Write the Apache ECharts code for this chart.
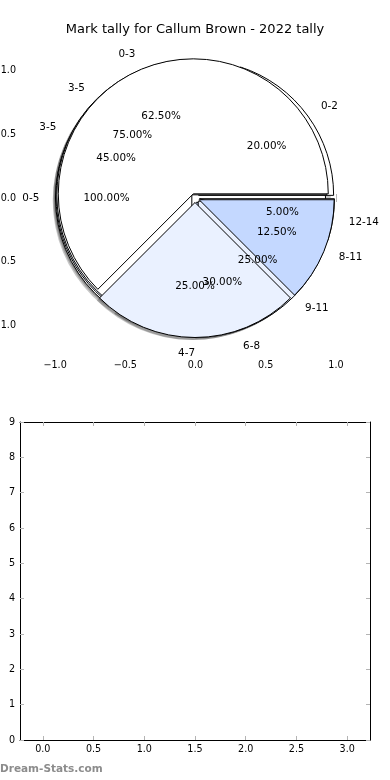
<!DOCTYPE html>
<html><head><meta charset="utf-8">
<script src="https://cdn.jsdelivr.net/npm/echarts@6/dist/echarts.min.js"></script>
<style>html,body{margin:0;padding:0;background:#fff}#c{width:390px;height:780px}</style>
</head><body><div id="c"></div>
<script>
// ---- data ----
const titleText = 'Mark tally for Callum Brown - 2022 tally';
const pieANames = ['0-5'];
const pieAValues = [100];
const pieBNames = ['0-3', '4-7', '8-11'];
const pieBValues = [62.5, 25, 12.5];
const pieCNames = ['0-2', '3-5', '6-8', '12-14'];
const pieCValues = [20, 45, 30, 5];
const pieDNames = ['3-5', '9-11'];
const pieDValues = [75, 25];
const pieTicks = [-1, -0.5, 0, 0.5, 1];
const barCategories = [0, 1, 2, 3];
const barValues = [0, 0, 0, 0];
const barXTicks = [0, 0.5, 1, 1.5, 2, 2.5, 3];
const barYTicks = [0, 1, 2, 3, 4, 5, 6, 7, 8, 9];
const watermark = 'Dream-Stats.com';

// ---- styles ----
const FONT = 'DejaVu Sans';
const sliceColors = ['#ffffff', '#eaf1ff', '#c4d8ff', '#ffffff'];
const CENTER = [195, 198];
const SHADOW_CENTER = [192.2, 200.6];
const R = 135;
const EXPLODE = 4.5;
const TICK_COLOR = '#b4b4b4';

function fmtTick(v) {
  const s = Math.abs(v).toFixed(1);
  return v < 0 ? '\u2212' + s : s;
}

function pieBase(names, values, extra) {
  return Object.assign({
    type: 'pie', center: CENTER, radius: [0, R], startAngle: 0, clockwise: false,
    selectedMode: 'multiple', selectedOffset: EXPLODE, avoidLabelOverlap: false,
    animation: false, silent: true,
    labelLayout: { hideOverlap: false, moveOverlap: false },
    emphasis: { disabled: true }
  }, extra);
}
function pieShadow(names, values) {
  return pieBase(names, values, {
    center: SHADOW_CENTER,
    label: { show: false }, labelLine: { show: false },
    itemStyle: { color: 'rgba(0,0,0,0.22)', borderWidth: 0 },
    data: names.map((n, i) => ({ name: n, value: values[i], selected: true,
      select: { itemStyle: { color: 'rgba(0,0,0,0.22)', borderWidth: 0 } } }))
  });
}
function pieMain(names, values) {
  return pieBase(names, values, {
    label: { show: true, position: 'outside', formatter: '{b}', color: '#000',
      fontFamily: FONT, fontSize: 10.4, distanceToLabelLine: 0 },
    labelLine: { show: false, length: R * 0.12, length2: 0 },
    itemStyle: { borderColor: '#000', borderWidth: 1 },
    data: names.map((n, i) => ({ name: n, value: values[i], selected: true,
      itemStyle: { color: sliceColors[i] },
      select: { itemStyle: { color: sliceColors[i], borderColor: '#000', borderWidth: 1 } } }))
  });
}
function piePct(names, values) {
  return pieBase(names, values, {
    radius: [0, R * 1.2],
    label: { show: true, position: 'inside', color: '#000', fontFamily: FONT, fontSize: 10.4,
      formatter: p => p.percent.toFixed(2) + '%' },
    labelLine: { show: false },
    itemStyle: { color: 'rgba(0,0,0,0)', borderWidth: 0 },
    data: names.map((n, i) => ({ name: n, value: values[i], selected: true,
      select: { itemStyle: { color: 'rgba(0,0,0,0)', borderWidth: 0 } } }))
  });
}

const tickStyle = { show: true, inside: true, length: 4, lineStyle: { color: TICK_COLOR, width: 1 } };
const labelStyle = { color: '#000', fontFamily: FONT, fontSize: 9.6 };
const frameLine = { show: true, onZero: false, lineStyle: { color: '#000', width: 1 } };

const mainB = pieMain(pieBNames, pieBValues);
// matplotlib right-aligns the label that sits straight below the centre
mainB.labelLayout = function (p) {
  return p.dataIndex === 1 ? { align: 'right', hideOverlap: false, moveOverlap: false }
                           : { hideOverlap: false, moveOverlap: false };
};

const chart = echarts.init(document.getElementById('c'), null, { renderer: 'canvas' });
chart.setOption({
  backgroundColor: '#fff',
  animation: false,
  title: { text: titleText, left: 'center', top: 23, padding: 0,
    textStyle: { fontFamily: FONT, fontSize: 13, fontWeight: 'normal', color: '#000' } },
  grid: [
    { left: 20, right: 19, top: 40, bottom: 424, containLabel: false, outerBoundsMode: 'none' },
    { left: 20, right: 20, top: 422, bottom: 40, containLabel: false, outerBoundsMode: 'none' }
  ],
  xAxis: [
    { type: 'value', gridIndex: 0, position: 'bottom', min: -1.25, max: 1.25,
      axisLine: { show: false }, splitLine: { show: false },
      axisTick: Object.assign({ customValues: pieTicks }, tickStyle),
      axisLabel: Object.assign({ customValues: pieTicks, formatter: fmtTick, margin: 4 }, labelStyle) },
    { type: 'value', gridIndex: 0, position: 'top', min: -1.25, max: 1.25,
      axisLine: { show: false }, splitLine: { show: false },
      axisTick: Object.assign({ customValues: pieTicks }, tickStyle), axisLabel: { show: false } },
    { type: 'value', gridIndex: 1, position: 'bottom', min: -0.225, max: 3.225,
      axisLine: frameLine, splitLine: { show: false },
      axisTick: Object.assign({ customValues: barXTicks }, tickStyle),
      axisLabel: Object.assign({ customValues: barXTicks, formatter: fmtTick, margin: 4 }, labelStyle) },
    { type: 'value', gridIndex: 1, position: 'top', min: -0.225, max: 3.225,
      axisLine: frameLine, splitLine: { show: false },
      axisTick: Object.assign({ customValues: barXTicks }, tickStyle), axisLabel: { show: false } }
  ],
  yAxis: [
    { type: 'value', gridIndex: 0, position: 'left', min: -1.236, max: 1.236,
      axisLine: { show: false }, splitLine: { show: false },
      axisTick: Object.assign({ customValues: pieTicks }, tickStyle),
      axisLabel: Object.assign({ customValues: pieTicks, formatter: fmtTick, margin: 4 }, labelStyle) },
    { type: 'value', gridIndex: 0, position: 'right', min: -1.236, max: 1.236,
      axisLine: { show: false }, splitLine: { show: false },
      axisTick: Object.assign({ customValues: pieTicks }, tickStyle), axisLabel: { show: false } },
    { type: 'value', gridIndex: 1, position: 'left', min: 0, max: 9, interval: 1,
      axisLine: frameLine, splitLine: { show: false },
      axisTick: Object.assign({ customValues: barYTicks }, tickStyle),
      axisLabel: Object.assign({ customValues: barYTicks, margin: 5 }, labelStyle) },
    { type: 'value', gridIndex: 1, position: 'right', min: 0, max: 9, interval: 1,
      axisLine: frameLine, splitLine: { show: false },
      axisTick: Object.assign({ customValues: barYTicks }, tickStyle), axisLabel: { show: false } }
  ],
  graphic: [
    { type: 'text', left: 0, top: 764, silent: true,
      style: { text: watermark, fill: '#8c8c8c', font: 'bold 10.5px "DejaVu Sans"' } }
  ],
  series: [
    pieShadow(pieANames, pieAValues),
    pieShadow(pieCNames, pieCValues),
    pieShadow(pieDNames, pieDValues),
    pieShadow(pieBNames, pieBValues),
    pieMain(pieANames, pieAValues),
    pieMain(pieCNames, pieCValues),
    pieMain(pieDNames, pieDValues),
    mainB,
    piePct(pieANames, pieAValues),
    piePct(pieCNames, pieCValues),
    piePct(pieDNames, pieDValues),
    piePct(pieBNames, pieBValues),
    { type: 'bar', xAxisIndex: 2, yAxisIndex: 2, barWidth: 46, silent: true,
      itemStyle: { color: '#c4d8ff', borderColor: '#000', borderWidth: 0 },
      data: barCategories.map((c, i) => [c, barValues[i]]) }
  ]
});
</script></body></html>
